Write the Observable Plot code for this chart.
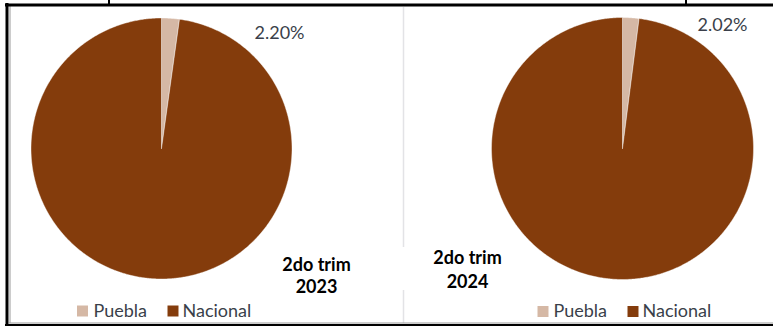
<!DOCTYPE html>
<html>
<head>
<meta charset="utf-8">
<script src="https://cdn.jsdelivr.net/npm/d3@7"></script>
<script src="https://cdn.jsdelivr.net/npm/@observablehq/plot@0.6"></script>
<style>
  html, body { margin: 0; padding: 0; background: #fff; }
  #chart svg { display: block; }
</style>
</head>
<body>
<div id="chart"></div>
<script>
// ---- data ----
const periods = ["2do trim 2023", "2do trim 2024"];
const titleLine1 = ["2do trim", "2do trim"];
const titleLine2 = ["2023", "2024"];
const categories = ["Puebla", "Nacional"];
const pueblaShare = [2.20, 2.02];
const nacionalShare = [97.80, 97.98];
const pctLabels = ["2.20%", "2.02%"];
const colors = ["#D5B8A5", "#843C0C"];

// ---- layout (pixel space) ----
const W = 773, H = 326;
const pies = [
  {cx: 161, cy: 148, r: 130.5, lab: [279, 33], t1: [316, 265], t2: [316, 287],
   leg: [{sx: 82, tx: 93}, {sx: 172.5, tx: 182}], ly: 310.5},
  {cx: 622, cy: 148, r: 131, lab: [722, 25], t1: [467, 258], t2: [467, 282],
   leg: [{sx: 542.5, tx: 553}, {sx: 632.5, tx: 642}], ly: 311}
];

// ---- build slice polygons ----
const pie = d3.pie().sort(null).value(d => d.v);
const slicePts = [];
periods.forEach((p, i) => {
  const vals = [{c: categories[0], v: pueblaShare[i]}, {c: categories[1], v: nacionalShare[i]}];
  const {cx, cy, r} = pies[i];
  pie(vals).forEach(a => {
    const key = p + "|" + a.data.c;
    slicePts.push({key, cat: a.data.c, x: cx, y: cy});
    const n = Math.max(2, Math.ceil((a.endAngle - a.startAngle) / (Math.PI / 360)));
    for (let k = 0; k <= n; k++) {
      const t = a.startAngle + (a.endAngle - a.startAngle) * k / n;
      slicePts.push({key, cat: a.data.c, x: cx + r * Math.sin(t), y: cy - r * Math.cos(t)});
    }
    slicePts.push({key, cat: a.data.c, x: cx, y: cy});
  });
});

const pctData = periods.map((p, i) => ({x: pies[i].lab[0], y: pies[i].lab[1], t: pctLabels[i]}));
const t1Data = periods.map((p, i) => ({x: pies[i].t1[0], y: pies[i].t1[1], t: titleLine1[i]}));
const t2Data = periods.map((p, i) => ({x: pies[i].t2[0], y: pies[i].t2[1], t: titleLine2[i]}));
const legSq = [], legTx = [];
periods.forEach((p, i) => {
  categories.forEach((c, j) => {
    legSq.push({x: pies[i].leg[j].sx, y: pies[i].ly, c});
    legTx.push({x: pies[i].leg[j].tx, y: pies[i].ly, t: c});
  });
});

const font = "Lato, 'Open Sans', sans-serif";

const chart = Plot.plot({
  width: W, height: H,
  margin: 0,
  x: {domain: [0, W], range: [0, W], axis: null},
  y: {domain: [0, H], range: [0, H], axis: null},
  color: {domain: categories, range: colors},
  style: {background: "#fff"},
  marks: [
    // frame
    Plot.ruleX([403], {y1: 7, y2: 247, stroke: "#e3e3e6", strokeWidth: 1.5}),
    Plot.ruleX([403], {y1: 290, y2: 323, stroke: "#e3e3e6", strokeWidth: 1.5}),
    Plot.ruleY([322.5], {x1: 9, x2: W, stroke: "#9a9a9a", strokeWidth: 1}),
    Plot.ruleY([324.8], {x1: 5, x2: W, stroke: "#000", strokeWidth: 2.4}),
    Plot.ruleX([9.5], {y1: 6, y2: 323, stroke: "#9a9a9a", strokeWidth: 1}),
    Plot.ruleX([6.5], {y1: 3, y2: 326, stroke: "#000", strokeWidth: 3}),
    Plot.ruleY([4.5], {x1: 5, x2: W, stroke: "#000", strokeWidth: 3}),
    Plot.ruleX([108.5, 685.5], {y1: 0, y2: 4, stroke: "#000", strokeWidth: 2}),
    // pies
    Plot.line(slicePts, {x: "x", y: "y", z: "key", fill: "cat", stroke: "#fff", strokeWidth: 0.6, strokeOpacity: 0.7, curve: "linear"}),
    // percent labels
    Plot.text(pctData, {x: "x", y: "y", text: "t", fontSize: 18, fontFamily: font, fill: "#3a3f4a", textAnchor: "middle", lineAnchor: "middle"}),
    // titles
    Plot.text(t1Data, {x: "x", y: "y", text: "t", fontSize: 18, fontWeight: "bold", fontFamily: font, fill: "#000", textAnchor: "middle", lineAnchor: "middle"}),
    Plot.text(t2Data, {x: "x", y: "y", text: "t", fontSize: 18, fontWeight: "bold", fontFamily: font, fill: "#000", textAnchor: "middle", lineAnchor: "middle"}),
    // legends
    Plot.dot(legSq, {x: "x", y: "y", fill: "c", symbol: "square", r: 6.2, stroke: "none"}),
    Plot.text(legTx, {x: "x", y: "y", text: "t", fontSize: 18, fontFamily: font, fill: "#3a3f4a", textAnchor: "start", lineAnchor: "middle"})
  ]
});
document.getElementById("chart").appendChild(chart);
</script>
</body>
</html>
